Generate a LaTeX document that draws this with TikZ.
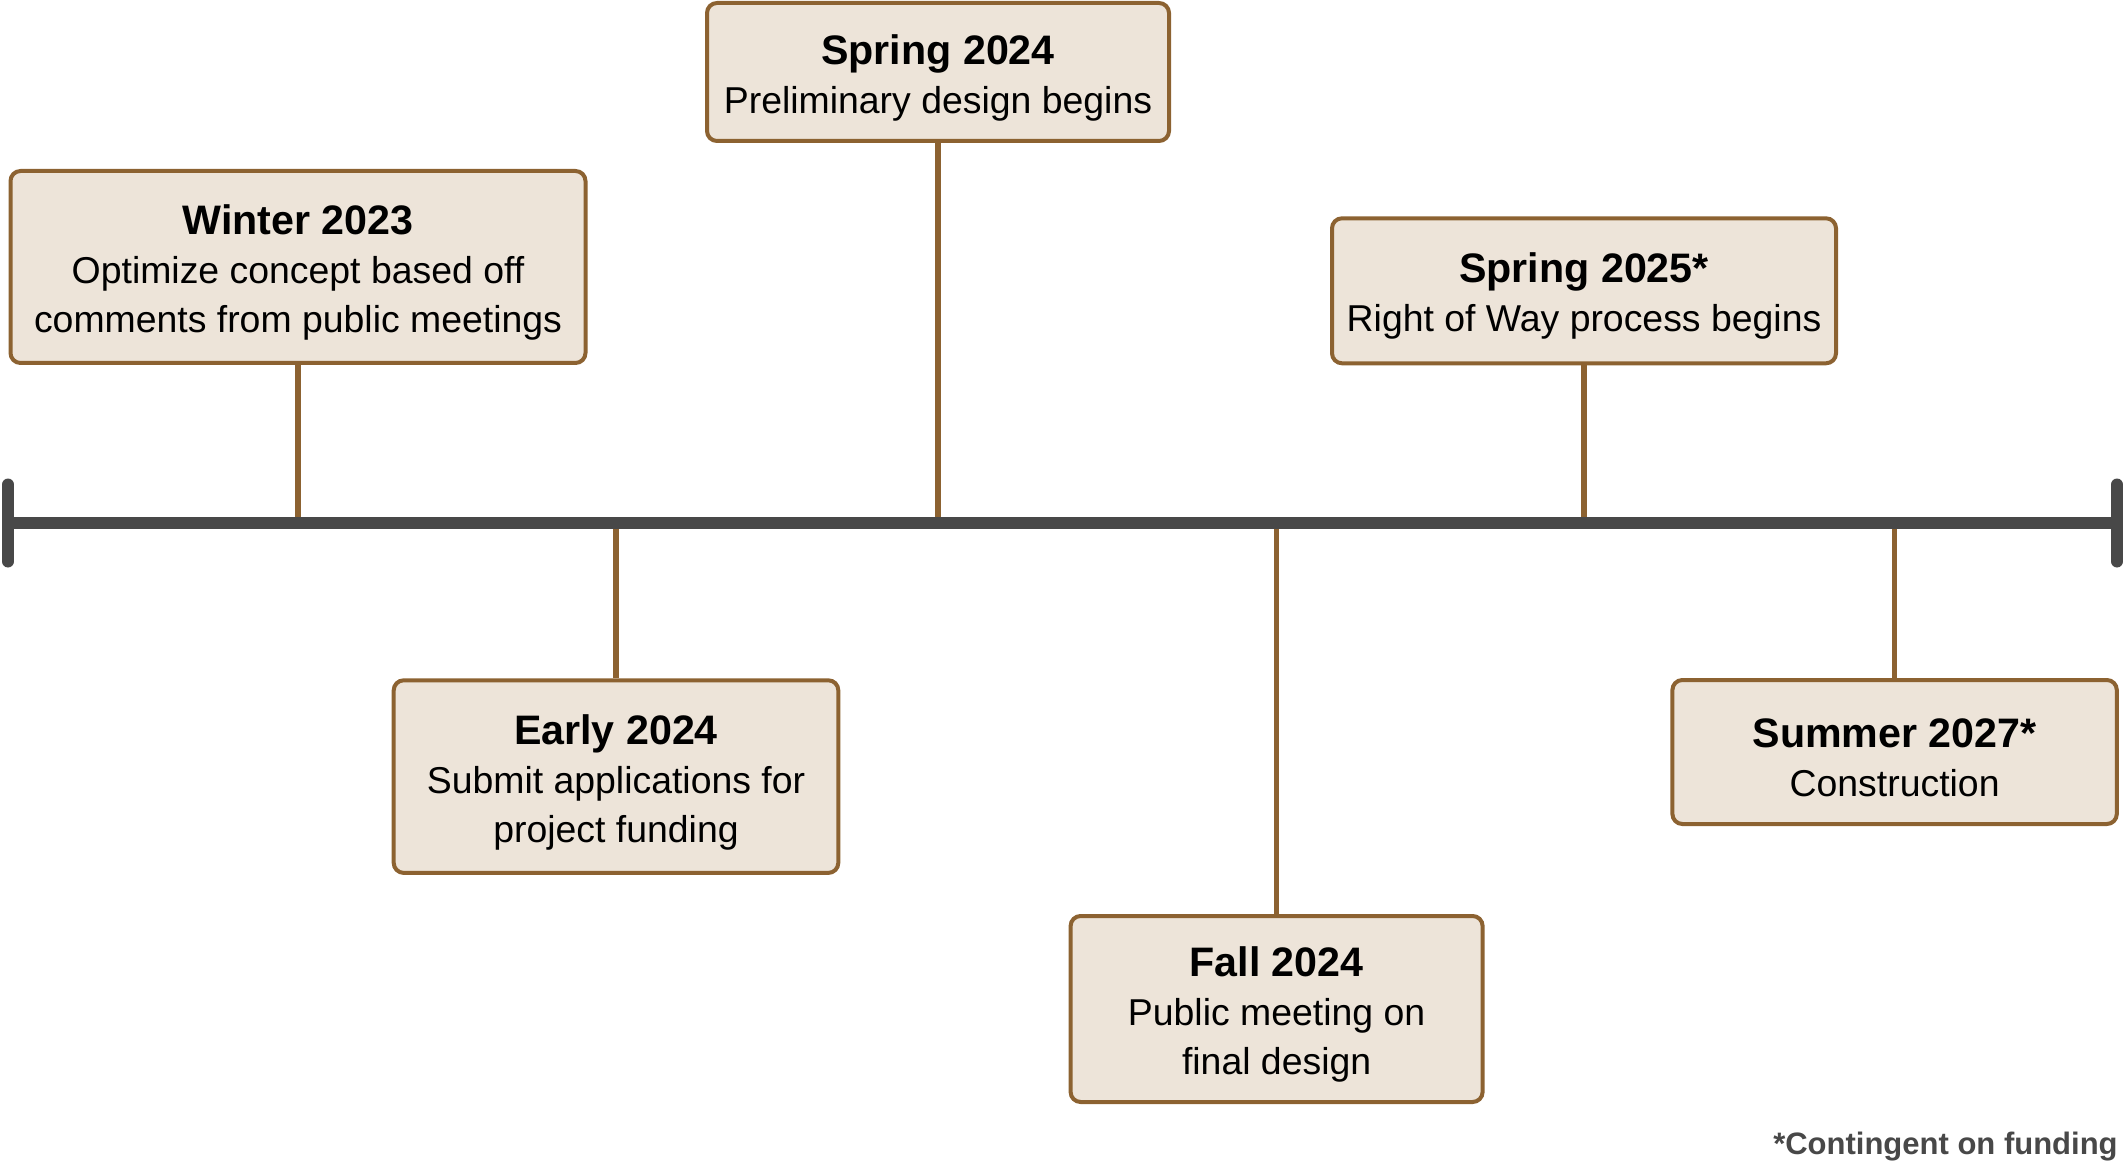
\documentclass[tikz,border=0pt]{standalone}
\usepackage{fontspec}
\setmainfont{Liberation Sans}
\definecolor{boxbrown}{HTML}{8C6231}
\definecolor{boxfill}{HTML}{EDE4D9}
\definecolor{linegray}{HTML}{484848}
\begin{document}
\begin{tikzpicture}[x=1pt, y=-1pt,
	milestone/.style={draw=boxbrown, fill=boxfill, line width=2pt, rounded corners=5pt,
		inner sep=0pt, align=center, font=\fontsize{18.7}{24.5}\selectfont},
	stem/.style={draw=boxbrown, line width=2.8pt},
	timeline/.style={draw=linegray, line width=6pt}]

\useasboundingbox (0,0) rectangle (1062.5,585.5);
\coordinate (tl) at (4,261.5);
\coordinate (tr) at (1058.5,261.5);

\foreach \id/\x/\y/\w/\h/\when/\what in {
	winter/149/133.5/287.5/96/{Winter 2023}/{Optimize concept based off\\comments from public meetings},
	spring/469/36/231/69/{Spring 2024}/{Preliminary design begins},
	springb/792/145.4/252/72.5/{Spring 2025*}/{Right of Way process begins},
	early/308/388.3/222.3/96.3/{Early 2024}/{Submit applications for\\project funding},
	fall/638.3/504.5/206/93/{Fall 2024}/{Public meeting on\\final design},
	summer/947.3/376/222.2/72/{Summer 2027*}/{Construction}
}{
\node[milestone, minimum width=\w pt, minimum height=\h pt] (\id) at (\x,\y)
	{\rule{0pt}{20.5pt}{\fontsize{20.6}{24.5}\selectfont\bfseries \when}\\\what};
\draw[stem] (\id) -- (\id |- tl);
}

\draw[timeline] (tl) -- (tr);
\draw[timeline, line cap=round] ([yshift=-19.25pt]tl) -- ([yshift=19.25pt]tl);
\draw[timeline, line cap=round] ([yshift=-19.25pt]tr) -- ([yshift=19.25pt]tr);

\node[anchor=east, inner sep=0pt, text=linegray, font=\fontsize{15.5}{18}\selectfont\bfseries]
	(note) at (1059,573.5) {*Contingent on funding};
\end{tikzpicture}
\end{document}
